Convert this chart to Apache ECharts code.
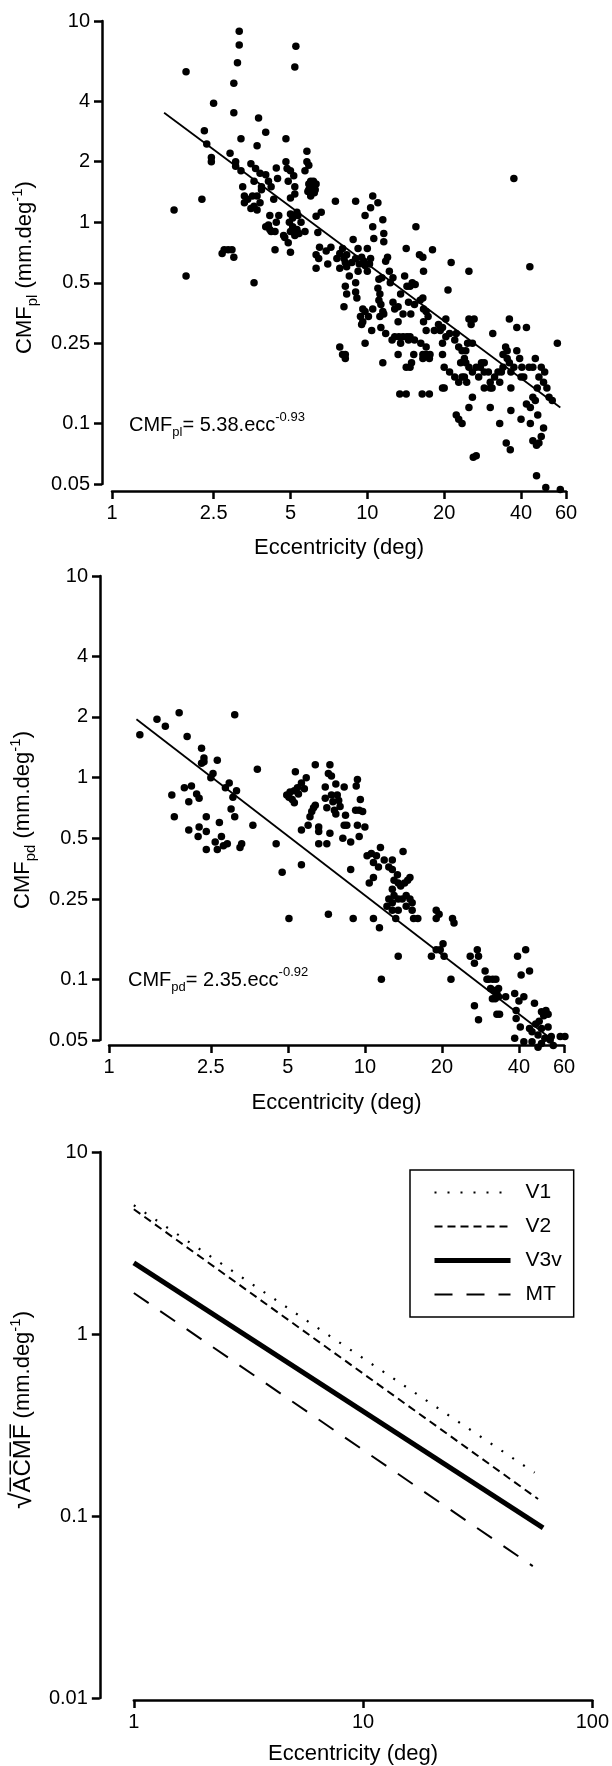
<!DOCTYPE html>
<html>
<head>
<meta charset="utf-8">
<script src="https://cdn.jsdelivr.net/npm/echarts@6/dist/echarts.min.js"></script>
<style>
  html, body { margin: 0; padding: 0; background: #fff; }
  #chart { width: 612px; height: 1766px; }
</style>
</head>
<body>
<div id="chart"></div>
<script>
// tick labels
const eccTicks = [1, 2.5, 5, 10, 20, 40, 60]
const cmfTicks = [0.05, 0.1, 0.25, 0.5, 1, 2, 4, 10]
const eccTicksC = [1, 10, 100]
const acmfTicks = [0.01, 0.1, 1, 10]

// panel A: CMF pl, [eccentricity, CMF]
const plPoints = [
  [3.15,8.9],[3.15,7.6],[5.25,7.5],[3.1,6.2],[5.2,5.9],[1.95,5.6],[3.0,4.9],[2.5,3.9],[3.0,3.5],[3.75,3.3],
  [2.3,2.85],[4.0,2.8],[3.2,2.6],[4.8,2.6],[2.35,2.45],[3.7,2.4],[2.45,2.1],[2.45,2.0],[2.9,2.2],[3.05,2.0],
  [3.05,1.9],[3.2,1.8],[3.5,1.95],[3.65,1.85],[3.8,1.75],[4.0,1.72],[3.6,1.6],[4.4,1.86],[4.45,1.65],[4.8,2.0],
  [4.85,1.85],[5.0,1.8],[5.15,1.7],[4.9,1.6],[5.2,1.5],[5.8,2.25],[5.8,2.0],[5.9,1.92],[5.7,1.8],[6.0,1.6],
  [6.1,1.5],[6.2,1.4],[5.9,1.45],[6.0,1.35],[6.3,1.55],[5.9,1.55],[6.0,1.45],[6.1,1.4],[6.2,1.5],[6.15,1.6],
  [5.85,1.42],[6.25,1.45],[3.25,1.5],[3.3,1.35],[3.3,1.25],[3.4,1.3],[3.55,1.35],[3.6,1.2],[3.7,1.35],[3.8,1.25],
  [3.85,1.5],[4.1,1.6],[3.85,1.45],[4.3,1.3],[4.2,1.5],[3.7,1.15],[3.5,1.17],[4.15,1.08],[4.5,1.08],[5.0,1.32],
  [5.2,1.38],[5.3,1.12],[5.1,1.05],[5.0,1.1],[5.35,1.08],[4.95,1.0],[5.1,0.95],[5.3,0.92],[5.0,0.9],[5.5,1.0],
  [5.4,0.88],[5.7,0.9],[5.2,0.86],[4.1,0.97],[4.0,0.95],[4.15,0.92],[4.2,0.9],[4.4,1.0],[4.35,0.9],[4.7,0.86],
  [4.75,0.84],[4.35,0.73],[4.9,0.79],[5.0,0.71],[2.75,0.73],[2.85,0.73],[2.95,0.73],[2.7,0.7],[3.0,0.67],[1.75,1.15],
  [2.25,1.3],[1.95,0.54],[3.6,0.5],[6.3,1.07],[6.6,1.12],[6.4,0.89],[6.3,0.69],[6.45,0.66],[6.3,0.59],[7.0,0.62],
  [7.2,0.75],[7.5,1.27],[7.6,0.66],[7.8,0.7],[7.8,0.59],[8.0,0.74],[8.1,0.66],[8.2,0.63],[8.3,0.69],[8.3,0.6],
  [8.5,0.54],[8.7,0.63],[8.8,0.82],[9.0,1.27],[9.0,0.66],[9.2,0.74],[9.3,0.62],[9.2,0.57],[9.5,0.67],[9.7,0.64],
  [9.8,0.61],[10.0,0.74],[10.0,0.57],[10.2,0.62],[10.3,0.66],[10.5,1.35],[10.3,1.18],[9.8,1.08],[10.5,0.95],[10.6,0.83],
  [11.0,1.25],[11.5,1.03],[11.6,0.88],[11.6,0.8],[12.0,0.67],[11.8,0.64],[11.1,0.52],[11.4,0.53],[12.2,0.57],[12.6,0.53],
  [12.3,0.5],[6.5,0.75],[6.9,0.72],[8.2,0.48],[8.3,0.44],[9.0,0.5],[9.0,0.45],[9.1,0.42],[8.1,0.38],[9.6,0.37],
  [9.8,0.36],[9.4,0.34],[9.6,0.32],[9.5,0.31],[10.1,0.34],[10.5,0.37],[11.0,0.47],[11.2,0.44],[11.1,0.41],[11.3,0.39],
  [11.2,0.34],[11.5,0.36],[11.6,0.35],[11.3,0.3],[10.4,0.29],[9.8,0.25],[11.8,0.28],[12.5,0.26],[13.2,0.32],[12.8,0.37],
  [12.6,0.4],[13.5,0.44],[13.2,0.38],[13.8,0.35],[14.2,0.74],[14.0,0.54],[14.3,0.48],[14.5,0.4],[14.7,0.48],[14.8,0.35],
  [15.0,0.5],[15.3,0.39],[15.4,0.49],[15.5,0.95],[16.1,0.41],[16.5,0.42],[16.0,0.69],[16.5,0.67],[16.6,0.57],[16.6,0.37],
  [17.0,0.36],[17.3,0.34],[18.0,0.73],[16.6,0.32],[17.0,0.29],[12.8,0.27],[13.3,0.27],[13.8,0.27],[14.3,0.27],[14.7,0.27],
  [13.5,0.25],[14.5,0.26],[15.3,0.26],[16.2,0.25],[17.0,0.24],[13.2,0.22],[14.2,0.19],[14.9,0.2],[16.5,0.22],[17.0,0.22],
  [17.6,0.22],[16.5,0.21],[17.5,0.21],[13.4,0.14],[14.2,0.14],[16.4,0.14],[17.5,0.14],[11.5,0.2],[7.8,0.24],[8.0,0.22],
  [8.2,0.22],[8.2,0.21],[14.7,0.19],[15.2,0.22],[18.3,0.29],[19.0,0.31],[19.3,0.29],[19.7,0.3],[20.3,0.33],[20.7,0.46],
  [21.3,0.63],[19.7,0.25],[20.3,0.27],[21.0,0.28],[22.0,0.26],[22.3,0.28],[22.8,0.24],[23.5,0.23],[24.0,0.21],[23.2,0.2],
  [24.3,0.2],[24.7,0.25],[25.0,0.33],[25.5,0.31],[25.0,0.57],[26.2,0.33],[25.8,0.25],[24.3,0.23],[19.7,0.22],[20.0,0.19],
  [21.0,0.18],[22.0,0.17],[22.8,0.16],[23.5,0.17],[24.0,0.17],[24.5,0.16],[25.0,0.19],[25.8,0.18],[26.7,0.19],[27.3,0.17],
  [19.7,0.15],[20.0,0.15],[22.3,0.11],[22.8,0.105],[23.5,0.1],[25.0,0.12],[25.8,0.135],[26.0,0.068],[26.7,0.069],[27.7,0.19],
  [28.7,0.18],[29.8,0.18],[30.3,0.16],[30.8,0.15],[28.7,0.15],[28.0,0.2],[28.7,0.2],[31.0,0.28],[30.3,0.12],[30.3,0.15],
  [31.5,0.17],[32.5,0.18],[33.0,0.16],[33.0,0.1],[33.5,0.18],[34.0,0.19],[34.0,0.22],[34.8,0.24],[35.3,0.21],[35.3,0.23],
  [36.0,0.33],[36.0,0.2],[36.5,0.18],[36.5,0.15],[35.0,0.08],[36.3,0.074],[36.5,0.116],[37.5,1.65],[37.5,0.19],[38.5,0.23],
  [38.5,0.3],[39.5,0.21],[40.0,0.17],[40.3,0.19],[41.0,0.17],[42.0,0.3],[42.0,0.125],[40.0,0.105],[43.3,0.6],[43.5,0.12],
  [44.5,0.135],[45.5,0.21],[44.5,0.19],[43.0,0.19],[43.5,0.1],[44.5,0.082],[46.0,0.078],[47.0,0.08],[48.0,0.086],[49.0,0.095],
  [46.0,0.055],[50.0,0.048],[46.3,0.15],[47.0,0.17],[48.0,0.19],[49.0,0.16],[49.5,0.18],[50.5,0.15],[51.5,0.135],[53.0,0.13],
  [55.5,0.25],[57.0,0.047],[45.5,0.13],[46.5,0.11]
]
const plFit = [[1.6, 3.5], [57, 0.12]]

// panel B: CMF pd
const pdPoints = [
  [1.32,1.63],[1.54,1.95],[1.66,1.8],[1.88,2.1],[2.02,1.6],[3.1,2.05],[2.3,1.4],[2.35,1.25],[2.3,1.18],[2.35,1.2],
  [2.55,1.05],[2.65,1.22],[2.5,1.0],[1.76,0.82],[1.97,0.89],[2.1,0.91],[2.2,0.83],[2.05,0.76],[2.25,0.79],[1.8,0.64],
  [2.05,0.55],[2.25,0.57],[2.23,0.51],[2.4,0.64],[2.4,0.54],[2.7,0.6],[2.6,0.48],[2.75,0.51],[2.65,0.44],[2.8,0.46],
  [2.9,0.47],[2.4,0.44],[2.85,0.89],[2.95,0.94],[3.0,0.7],[3.05,0.8],[3.15,0.86],[3.1,0.64],[3.25,0.45],[3.3,0.47],
  [3.65,0.58],[3.8,1.1],[4.5,0.47],[4.75,0.34],[5.05,0.2],[4.95,0.82],[5.05,0.8],[5.2,0.78],[5.3,0.75],[5.35,1.07],
  [5.1,0.85],[5.3,0.86],[5.45,0.89],[5.5,0.83],[5.65,0.94],[5.8,0.88],[5.9,1.0],[6.0,0.58],[5.65,0.55],[5.65,0.37],
  [6.1,0.64],[6.2,0.68],[6.4,1.16],[7.3,1.16],[7.0,0.9],[7.2,1.05],[7.4,1.02],[6.3,0.71],[6.4,0.73],[6.6,0.57],
  [6.6,0.54],[6.6,0.47],[7.0,0.79],[7.1,0.71],[7.1,0.47],[7.2,0.21],[7.3,0.53],[7.4,0.82],[7.5,0.76],[7.6,0.69],
  [7.7,0.66],[7.8,0.82],[7.9,0.77],[8.0,0.72],[7.7,0.93],[8.3,0.9],[8.4,0.65],[8.5,0.58],[8.2,0.5],[8.3,0.58],
  [8.8,0.48],[8.8,0.35],[9.0,0.2],[9.2,0.69],[9.35,0.98],[9.25,0.91],[9.5,0.69],[9.8,0.68],[9.6,0.78],[9.35,0.58],
  [9.5,0.51],[10.0,0.57],[10.2,0.41],[10.6,0.42],[10.8,0.38],[10.4,0.3],[10.8,0.32],[11.5,0.45],[11.1,0.41],[11.3,0.36],
  [11.9,0.39],[12.8,0.39],[14.1,0.43],[12.4,0.36],[12.8,0.35],[13.0,0.31],[13.4,0.33],[13.5,0.3],[12.8,0.28],[13.8,0.29],
  [14.3,0.3],[14.7,0.31],[15.0,0.32],[12.4,0.25],[12.8,0.24],[13.0,0.26],[13.5,0.25],[14.0,0.25],[14.5,0.26],[15.0,0.25],
  [15.3,0.24],[12.2,0.23],[12.8,0.22],[13.5,0.22],[14.5,0.23],[15.3,0.22],[15.5,0.2],[16.1,0.2],[13.2,0.2],[10.8,0.2],
  [11.4,0.18],[13.5,0.13],[11.6,0.1],[19.0,0.22],[19.0,0.2],[19.5,0.21],[22.0,0.2],[22.3,0.19],[18.2,0.13],[19.0,0.14],
  [19.7,0.14],[20.2,0.15],[20.4,0.13],[21.7,0.1],[25.8,0.13],[26.8,0.12],[27.5,0.14],[27.8,0.13],[26.8,0.074],[27.8,0.063],
  [29.5,0.11],[30.0,0.1],[30.5,0.1],[31.0,0.09],[31.6,0.1],[32.5,0.1],[32.0,0.088],[33.3,0.09],[32.8,0.085],[31.5,0.08],
  [32.3,0.08],[33.3,0.082],[35.5,0.082],[32.8,0.067],[33.6,0.067],[38.5,0.085],[39.0,0.07],[40.0,0.078],[41.8,0.082],[39.5,0.13],
  [42.5,0.14],[40.8,0.105],[44.0,0.11],[38.5,0.051],[40.5,0.058],[39.0,0.064],[41.8,0.049],[44.0,0.057],[45.0,0.055],[46.0,0.076],
  [46.5,0.06],[47.5,0.053],[48.0,0.062],[49.0,0.069],[50.0,0.066],[51.0,0.07],[52.0,0.067],[49.0,0.057],[50.5,0.051],[52.0,0.058],
  [53.0,0.05],[53.5,0.052],[49.0,0.048],[54.5,0.047],[45.0,0.049],[47.5,0.046],[58.0,0.052],[60.5,0.052]
]
const pdFit = [[1.28, 1.95], [52, 0.052]]

// panel C: sqrt(ACMF) fits per area
const areaNames = ['V1', 'V2', 'V3v', 'MT']
const v1Line = [[1, 5.1], [56, 0.173]]
const v2Line = [[1, 4.85], [58, 0.124]]
const v3vLine = [[1, 2.46], [61, 0.086]]
const mtLine = [[1, 1.68], [55, 0.053]]

const black = '#000'
const font = 'Liberation Sans, Arial, Helvetica, sans-serif'

function logAxis(grid, min, max, ticks, offset, name, nameGap, extra) {
  return Object.assign({
    type: 'log',
    logBase: 10,
    gridIndex: grid,
    min: min,
    max: max,
    offset: offset,
    name: name,
    nameLocation: 'middle',
    nameGap: nameGap,
    axisLine: { show: true, lineStyle: { color: black, width: 2.5 } },
    axisTick: { show: true, customValues: ticks, length: 8, lineStyle: { color: black, width: 2.5 } },
    axisLabel: {
      customValues: ticks,
      margin: 12,
      fontFamily: font,
      fontSize: 20,
      color: black,
      formatter: v => String(+(+v).toPrecision(3))
    },
    splitLine: { show: false },
    minorTick: { show: false }
  }, extra)
}

const subRich = {
  m: { fontFamily: font, fontSize: 22, color: black, lineHeight: 30 },
  r: { fontFamily: font, fontSize: 30, color: black, lineHeight: 30 },
  o: { fontFamily: font, fontSize: 24, color: black, lineHeight: 30 },
  s: { fontFamily: font, fontSize: 15, color: black, lineHeight: 15, verticalAlign: 'bottom' },
  u: { fontFamily: font, fontSize: 15, color: black, lineHeight: 15, verticalAlign: 'top' }
}
const eqRich = {
  m: { fontFamily: font, fontSize: 20, fontWeight: 'normal', color: black, lineHeight: 28 },
  s: { fontFamily: font, fontSize: 13, fontWeight: 'normal', color: black, lineHeight: 13, verticalAlign: 'bottom' },
  u: { fontFamily: font, fontSize: 13, fontWeight: 'normal', color: black, lineHeight: 13, verticalAlign: 'top' }
}

function xName(padding) {
  return { fontFamily: font, fontSize: 22, color: black, padding: padding || 0 }
}
function yName(padding) {
  return { fontFamily: font, fontSize: 22, color: black, padding: padding, rich: subRich }
}

const chart = echarts.init(document.getElementById('chart'), null, { renderer: 'canvas' })

const option = {
  animation: false,
  backgroundColor: '#fff',
  title: [
    {
      text: '{m|CMF}{s|pl}{m|= 5.38.ecc}{u|-0.93}',
      left: 129, top: 411, padding: 0,
      textStyle: { fontWeight: 'normal', rich: eqRich }
    },
    {
      text: '{m|CMF}{s|pd}{m|= 2.35.ecc}{u|-0.92}',
      left: 128, top: 966, padding: 0,
      textStyle: { fontWeight: 'normal', rich: eqRich }
    }
  ],
  grid: [
    { left: 112, top: 21, width: 454, height: 463 },
    { left: 109, top: 576, width: 455, height: 464 },
    { left: 132, top: 1152, width: 462, height: 546 }
  ],
  xAxis: [
    logAxis(0, 1, 60, eccTicks, 7, 'Eccentricity (deg)', 46, { nameTextStyle: xName() }),
    logAxis(1, 1, 60, eccTicks, 5, 'Eccentricity (deg)', 47, { nameTextStyle: xName() }),
    logAxis(2, 1, 100, eccTicksC, 2, 'Eccentricity (deg)', 43, { nameTextStyle: xName([0, 20, 0, 0]) })
  ],
  yAxis: [
    logAxis(0, 0.05, 10, cmfTicks, 10, '{m|CMF}{s|pl}{m| (mm.deg}{u|-1}{m|)}', 58,
      { nameRotate: 90, nameTextStyle: yName([0, 30, 0, 0]) }),
    logAxis(1, 0.05, 10, cmfTicks, 9, '{m|CMF}{s|pd}{m| (mm.deg}{u|-1}{m|)}', 59,
      { nameRotate: 90, nameTextStyle: yName([0, 24, 0, 0]) }),
    logAxis(2, 0.01, 10, acmfTicks, 34, '{r|\u221A}{o|A\u0305C\u0305M\u0305F\u0305}{m| (mm.deg}{u|-1}{m|)}', 54,
      { nameRotate: 90, nameTextStyle: yName([0, 0, 0, 30]) })
  ],
  legend: {
    orient: 'vertical',
    left: 410,
    top: 1170,
    data: areaNames,
    itemWidth: 76,
    itemHeight: 20,
    itemGap: 13,
    padding: [12, 12, 12, 22],
    borderColor: black,
    borderWidth: 1.5,
    borderRadius: 0,
    itemStyle: { opacity: 0 },
    lineStyle: { width: 'inherit', type: 'inherit', color: black },
    textStyle: { fontFamily: font, fontSize: 21, color: black, padding: [0, 0, 0, 10] }
  },
  series: [
    {
      type: 'scatter', xAxisIndex: 0, yAxisIndex: 0, data: plPoints,
      symbolSize: 7.5, itemStyle: { color: black, opacity: 1 }, clip: false, silent: true
    },
    {
      type: 'line', xAxisIndex: 0, yAxisIndex: 0, data: plFit, symbol: 'none',
      lineStyle: { color: black, width: 1.8 }, silent: true
    },
    {
      type: 'scatter', xAxisIndex: 1, yAxisIndex: 1, data: pdPoints,
      symbolSize: 7.5, itemStyle: { color: black, opacity: 1 }, clip: false, silent: true
    },
    {
      type: 'line', xAxisIndex: 1, yAxisIndex: 1, data: pdFit, symbol: 'none',
      lineStyle: { color: black, width: 1.8 }, silent: true
    },
    {
      name: 'V1', type: 'line', xAxisIndex: 2, yAxisIndex: 2, data: v1Line, symbol: 'none',
      itemStyle: { color: black }, lineStyle: { color: black, width: 2.2, type: [2, 11] }
    },
    {
      name: 'V2', type: 'line', xAxisIndex: 2, yAxisIndex: 2, data: v2Line, symbol: 'none',
      itemStyle: { color: black }, lineStyle: { color: black, width: 2, type: [8, 5] }
    },
    {
      name: 'V3v', type: 'line', xAxisIndex: 2, yAxisIndex: 2, data: v3vLine, symbol: 'none',
      itemStyle: { color: black }, lineStyle: { color: black, width: 5 }
    },
    {
      name: 'MT', type: 'line', xAxisIndex: 2, yAxisIndex: 2, data: mtLine, symbol: 'none',
      itemStyle: { color: black }, lineStyle: { color: black, width: 2, type: [18, 14] }
    }
  ]
}

chart.setOption(option)
</script>
</body>
</html>
